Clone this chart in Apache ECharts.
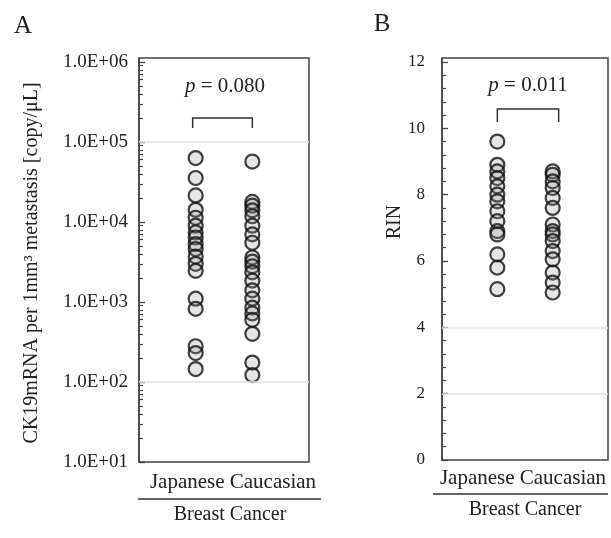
<!DOCTYPE html>
<html>
<head>
<meta charset="utf-8">
<script src="https://cdn.jsdelivr.net/npm/echarts@6/dist/echarts.min.js"></script>
<style>html,body{margin:0;padding:0;background:#fff;}#c{width:611px;height:538px;}</style>
</head>
<body>
<div id="c"></div>
<script>
// ---- data ----
const groups = ['Japanese', 'Caucasian'];
const ck19Japanese = [63000, 35500, 21500, 14200, 11300, 9000, 7400, 6400, 5300, 4600, 3700, 3000, 2450, 1100, 820, 280, 230, 145];
const ck19Caucasian = [57000, 17800, 16000, 14000, 11800, 9000, 7000, 5500, 3600, 3200, 2800, 2350, 1850, 1400, 1100, 850, 720, 600, 400, 175, 122];
const rinJapanese = [9.6, 8.9, 8.7, 8.5, 8.25, 8.0, 7.8, 7.5, 7.2, 6.9, 6.8, 6.2, 5.8, 5.15];
const rinCaucasian = [8.7, 8.6, 8.4, 8.2, 7.9, 7.6, 7.1, 6.9, 6.8, 6.6, 6.3, 6.05, 5.65, 5.35, 5.05];
const ckTicks = [10, 100, 1000, 10000, 100000, 1000000];
const rinTicks = [0, 2, 4, 6, 8, 10, 12];
const pValueA = '0.080';
const pValueB = '0.011';
const ckFaintLines = [100000, 100];
const rinFaintLines = [4, 2];

// minor ticks (axis decoration)
const ckMinor = [];
for (let d = 10; d < 1000000; d *= 10) for (let k = 2; k <= 9; k++) ckMinor.push(d * k);
const rinMinor = [];
for (let i = 0; i <= 30; i++) { const v = Math.round(i * 0.4 * 10) / 10; if (v % 2 !== 0) rinMinor.push(v); }

const SERIF = "'Liberation Serif','DejaVu Serif',serif";
const INK = '#222';
const AX = '#444';

const chart = echarts.init(document.getElementById('c'), null, {renderer: 'canvas'});

function pts(vals, x) { return vals.map(v => [x, v]); }
const markerStyle = {color: 'rgba(140,140,140,0.28)', borderColor: '#111', borderWidth: 2.2};
const SYM = 14;

const A_MAX = Math.pow(10, 6.05);
const B_MAX = 12.12;

const option = {
  animation: false,
  backgroundColor: '#fff',
  grid: [
    {left: 139, top: 58, width: 170, height: 404, show: true, borderColor: AX, borderWidth: 1.5, backgroundColor: 'transparent'},
    {left: 442, top: 58, width: 166, height: 402, show: true, borderColor: AX, borderWidth: 1.5, backgroundColor: 'transparent'}
  ],
  xAxis: [
    {gridIndex: 0, type: 'value', min: 0, max: 3, show: false},
    {gridIndex: 1, type: 'value', min: 0, max: 3, show: false}
  ],
  yAxis: [
    {gridIndex: 0, type: 'log', logBase: 10, min: 10, max: A_MAX, position: 'left',
     axisLine: {show: true, lineStyle: {color: AX, width: 1.5}},
     axisTick: {show: true, inside: true, length: 6, customValues: ckTicks, lineStyle: {color: AX, width: 1.3}},
     axisLabel: {customValues: ckTicks, margin: 11, color: INK, fontFamily: SERIF, fontSize: 19,
       formatter: v => '1.0E+' + String(Math.round(Math.log10(v))).padStart(2, '0')},
     splitLine: {show: false}},
    {gridIndex: 0, type: 'log', logBase: 10, min: 10, max: A_MAX, position: 'left',
     axisLine: {show: false},
     axisTick: {show: true, inside: true, length: 4, customValues: ckMinor, lineStyle: {color: AX, width: 1.2}},
     axisLabel: {show: false}, splitLine: {show: false}},
    {gridIndex: 1, type: 'value', min: 0, max: B_MAX, position: 'left',
     axisLine: {show: true, lineStyle: {color: AX, width: 1.5}},
     axisTick: {show: true, inside: true, length: 6, customValues: rinTicks, lineStyle: {color: AX, width: 1.3}},
     axisLabel: {customValues: rinTicks, margin: 17, color: INK, fontFamily: SERIF, fontSize: 17},
     splitLine: {show: false}},
    {gridIndex: 1, type: 'value', min: 0, max: B_MAX, position: 'left',
     axisLine: {show: false},
     axisTick: {show: true, inside: true, length: 4, customValues: rinMinor, lineStyle: {color: AX, width: 1.2}},
     axisLabel: {show: false}, splitLine: {show: false}}
  ],
  series: [
    {type: 'scatter', xAxisIndex: 0, yAxisIndex: 0, symbol: 'circle', symbolSize: SYM, data: pts(ck19Japanese, 1), itemStyle: markerStyle,
     markLine: {silent: true, symbol: 'none', label: {show: false}, lineStyle: {color: '#e4e4e4', type: 'solid', width: 1.5},
       data: ckFaintLines.map(v => ({yAxis: v}))}},
    {type: 'scatter', xAxisIndex: 0, yAxisIndex: 0, symbol: 'circle', symbolSize: SYM, data: pts(ck19Caucasian, 2), itemStyle: markerStyle},
    {type: 'scatter', xAxisIndex: 1, yAxisIndex: 2, symbol: 'circle', symbolSize: SYM, data: pts(rinJapanese, 1), itemStyle: markerStyle,
     markLine: {silent: true, symbol: 'none', label: {show: false}, lineStyle: {color: '#e4e4e4', type: 'solid', width: 1.5},
       data: rinFaintLines.map(v => ({yAxis: v}))}},
    {type: 'scatter', xAxisIndex: 1, yAxisIndex: 2, symbol: 'circle', symbolSize: SYM, data: pts(rinCaucasian, 2), itemStyle: markerStyle}
  ]
};
chart.setOption(option);

function txt(text, x, y, size, extra) {
  return Object.assign({type: 'text', x: x, y: y, silent: true,
    style: {text: text, fill: INK, fontFamily: SERIF, fontSize: size, align: 'center', verticalAlign: 'middle', textAlign: 'center', textVerticalAlign: 'middle'}}, extra || {});
}
function ptxt(val, x, y) {
  return {type: 'text', x: x, y: y, silent: true,
    style: {text: '{i|p} = ' + val, fill: INK, fontFamily: SERIF, fontSize: 21, align: 'center', verticalAlign: 'middle', textAlign: 'center', textVerticalAlign: 'middle',
      rich: {i: {fontStyle: 'italic', fontFamily: SERIF, fontSize: 21, fill: INK}}}};
}

const ax1 = chart.convertToPixel({xAxisIndex: 0}, 1), ax2 = chart.convertToPixel({xAxisIndex: 0}, 2);
const bx1 = chart.convertToPixel({xAxisIndex: 1}, 1), bx2 = chart.convertToPixel({xAxisIndex: 1}, 2);
const lineStyle = {stroke: '#333', lineWidth: 1.5, fill: null};

chart.setOption({
  graphic: [
    txt('A', 23, 26, 25),
    txt('B', 382, 24, 25),
    ptxt(pValueA, 225, 86),
    ptxt(pValueB, 528, 85),
    {type: 'polyline', silent: true, shape: {points: [[ax1 - 3, 128], [ax1 - 3, 118], [ax2, 118], [ax2, 128]]}, style: lineStyle},
    {type: 'polyline', silent: true, shape: {points: [[bx1, 122], [bx1, 109], [bx2 + 6, 109], [bx2 + 6, 122]]}, style: lineStyle},
    txt(groups.join(' '), 233, 482, 21),
    txt(groups.join(' '), 523, 478, 21),
    {type: 'line', silent: true, shape: {x1: 138, y1: 499, x2: 321, y2: 499}, style: {stroke: '#333', lineWidth: 1.5}},
    {type: 'line', silent: true, shape: {x1: 433, y1: 494, x2: 608, y2: 494}, style: {stroke: '#333', lineWidth: 1.5}},
    txt('Breast Cancer', 230, 515, 20),
    txt('Breast Cancer', 525, 510, 20),
    txt('RIN', 395, 222, 20, {rotation: Math.PI / 2}),
    txt('CK19mRNA per 1mm³ metastasis [copy/μL]', 32, 263, 20, {rotation: Math.PI / 2})
  ]
});
</script>
</body>
</html>
